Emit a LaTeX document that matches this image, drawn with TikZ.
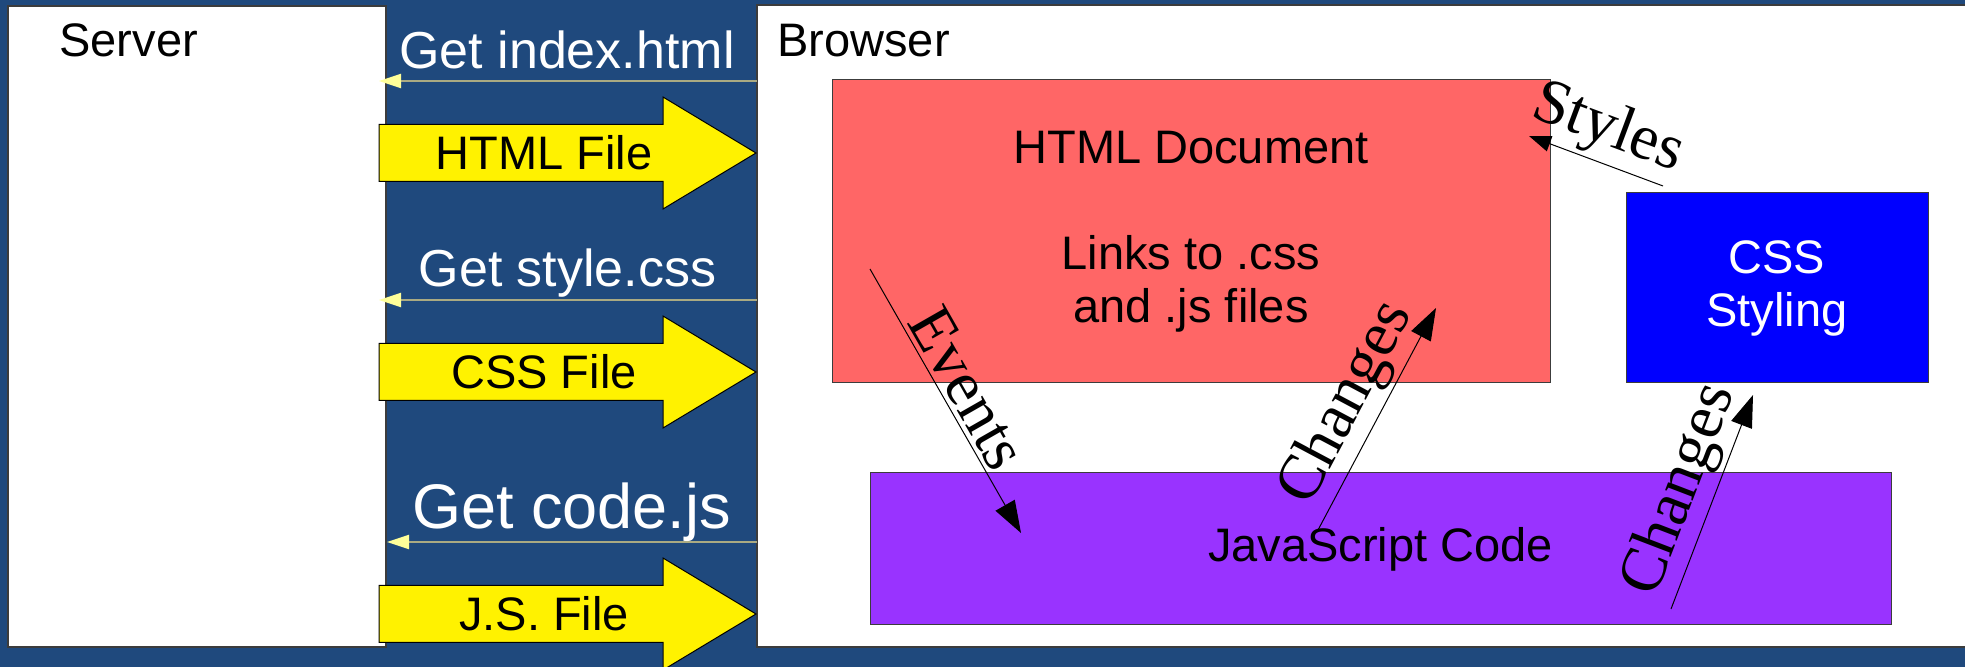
\documentclass[tikz,border=0pt]{standalone}
\usepackage{fontspec}
\setmainfont{Liberation Sans}
\newfontfamily\seriflabel{Liberation Serif}
\usetikzlibrary{arrows.meta}

\definecolor{slideblue}{RGB}{31,73,125}
\definecolor{docred}{RGB}{255,102,102}
\definecolor{jspurple}{RGB}{153,51,255}
\definecolor{cssblue}{RGB}{0,0,255}
\definecolor{reqline}{RGB}{170,170,130}
\definecolor{reqtip}{RGB}{255,255,153}
\definecolor{boxedge}{RGB}{60,60,60}

\begin{document}
\begin{tikzpicture}[x=0.5pt,y=-0.5pt,
  panel/.style={draw=boxedge, line width=0.75pt, fill=white, inner sep=0pt},
  block/.style={draw=boxedge, line width=0.5pt, inner sep=0pt, align=center,
    font=\fontsize{23.5}{26.5}\selectfont},
  title/.style={anchor=base west, inner sep=0pt, font=\fontsize{23.5}{28}\selectfont},
  reqtext/.style={anchor=base, inner sep=0pt, text=white},
  request/.style={draw=reqline, line width=1pt,
    -{Triangle[length=11pt,width=7pt,color=reqtip]}},
  filearrow/.style={draw=black, line width=0.5pt, fill=yellow},
  filetext/.style={inner sep=0pt, font=\fontsize{23.5}{28}\selectfont},
  link/.style={draw=black, line width=0.5pt, -{Triangle[length=16pt,width=11pt]}},
  smalllink/.style={draw=black, line width=0.5pt, -{Triangle[length=11pt,width=8pt]}},
  linklabel/.style={sloped, above, inner sep=2pt,
    font=\seriflabel\fontsize{32}{38}\selectfont},
]
\useasboundingbox (0,0) rectangle (1965,667);

% slide background
\fill[slideblue] (0,0) rectangle (1965,667);

% the two panels
\node[panel, minimum width=189pt, minimum height=320.5pt] (server) at (197,326.5) {};
\node[panel, minimum width=605.5pt, minimum height=321pt] (browser) at (1362.5,326) {};
\node[title] (servertitle) at (59,57) {Server};
\node[title] (browsertitle) at (777,57) {Browser};

% requests from the browser to the server
\coordinate (rq1a) at (757,81);  \coordinate (rq1b) at (379,81);
\coordinate (rq2a) at (757,300); \coordinate (rq2b) at (379,300);
\coordinate (rq3a) at (757,542); \coordinate (rq3b) at (387,542);
\draw[request] (rq1a) -- (rq1b);
\draw[request] (rq2a) -- (rq2b);
\draw[request] (rq3a) -- (rq3b);
\node[reqtext, font=\fontsize{26}{30}\selectfont] (rq1) at (567,69) {Get index.html};
\node[reqtext, font=\fontsize{26}{30}\selectfont] (rq2) at (567.5,287) {Get style.css};
\node[reqtext, font=\fontsize{31.5}{36}\selectfont] (rq3) at (571.5,529) {Get code.js};

% files sent back to the browser
\foreach \yc/\txt/\nm in {153/HTML File/htmlfile, 372/CSS File/cssfile, 614/J.S. File/jsfile}{
  \draw[filearrow] (379,\yc-28.5) -- (663,\yc-28.5) -- (663,\yc-56) -- (756,\yc)
    -- (663,\yc+56) -- (663,\yc+28.5) -- (379,\yc+28.5) -- cycle;
  \node[filetext] (\nm) at (544,\yc) {\txt};
}

% browser contents
\node[block, fill=docred, minimum width=359pt, minimum height=151.5pt] (html) at (1191,231.5)
  {HTML Document\\[26.5pt]Links to .css\\and .js files};
\node[block, fill=cssblue, text=white, minimum width=151pt, minimum height=95pt] (css) at (1777,288)
  {CSS\\Styling};
\node[block, fill=jspurple, minimum width=510.5pt, minimum height=76pt] (js) at (1380.5,549)
  {JavaScript Code};

% connections between the parts
\coordinate (evA) at (870,269);   \coordinate (evB) at (1021,533);
\coordinate (chA) at (1318,530);  \coordinate (chB) at (1436,308);
\coordinate (csA) at (1671,609);  \coordinate (csB) at (1753,395);
\coordinate (stA) at (1663,186);  \coordinate (stB) at (1529,136);
\draw[link] (evA) -- node[linklabel] (evlabel) {Events} (evB);
\draw[link] (chA) -- node[linklabel] (chlabel) {Changes} (chB);
\draw[link] (csA) -- node[linklabel] (cslabel) {Changes} (csB);
\draw[smalllink] (stA) -- node[linklabel] (stlabel) {Styles} (stB);
\end{tikzpicture}
\end{document}
